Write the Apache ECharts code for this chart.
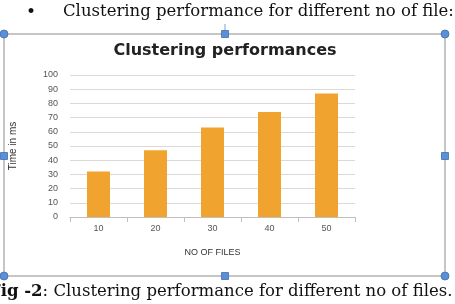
<!DOCTYPE html>
<html lang="en">
<head>
    <meta charset="UTF-8">
    <title>Clustering performances</title>
    <script src="https://cdn.jsdelivr.net/npm/echarts@6/dist/echarts.min.js"></script>
    <style>
        html, body { margin: 0; padding: 0; background: #fff; }
        #chart { width: 455px; height: 304px; }
    </style>
</head>
<body>
<div id="chart"></div>
<script>
    // data
    var fileCounts = ['10', '20', '30', '40', '50'];
    var timeMs = [32, 47, 63, 74, 87];
    var yTicks = { min: 0, max: 100, interval: 10 };

    var handleBlue = '#5b8fd6';
    var frameGrey = '#8c8c8c';

    var chart = echarts.init(document.getElementById('chart'));

    // word frame + resize handles round the embedded chart
    function corner(x, y) {
        return { type: 'circle', shape: { cx: x, cy: y, r: 4 }, style: { fill: handleBlue, stroke: '#3f6fb5', lineWidth: 0.8 }, z: 20 };
    }
    function square(x, y) {
        return { type: 'rect', shape: { x: x - 3.5, y: y - 3.5, width: 7, height: 7 }, style: { fill: handleBlue, stroke: '#3f6fb5', lineWidth: 0.8 }, z: 20 };
    }

    chart.setOption({
        animation: false,
        title: {
            text: 'Clustering performances',
            left: 220,
            top: 38,
            textAlign: 'center',
            textStyle: { fontFamily: 'DejaVu Sans', fontWeight: 'bold', fontSize: 16, color: '#222' }
        },
        grid: { left: 69, right: 100, top: 75, bottom: 87 },
        xAxis: {
            type: 'category',
            data: fileCounts,
            name: 'NO OF FILES',
            nameLocation: 'middle',
            nameGap: 31,
            nameTextStyle: { fontFamily: 'Liberation Sans', fontSize: 9, color: '#333' },
            axisLine: { lineStyle: { color: '#bfbfbf' } },
            axisTick: { show: true, lineStyle: { color: '#bfbfbf' } },
            axisLabel: { fontFamily: 'Liberation Sans', fontSize: 9, color: '#555', margin: 7 }
        },
        yAxis: {
            type: 'value',
            min: yTicks.min,
            max: yTicks.max,
            interval: yTicks.interval,
            name: 'Time in ms',
            nameLocation: 'middle',
            nameRotate: 90,
            nameGap: 52,
            nameTextStyle: { fontFamily: 'Liberation Sans', fontSize: 10, color: '#333' },
            axisLine: { show: false },
            axisTick: { show: false },
            splitLine: { lineStyle: { color: '#d9d9d9' } },
            axisLabel: { fontFamily: 'Liberation Sans', fontSize: 9, color: '#555', margin: 12 }
        },
        series: [{
            type: 'bar',
            data: timeMs,
            barWidth: 23,
            itemStyle: { color: '#f0a32e' }
        }],
        graphic: [
            {
                type: 'text', left: 26, top: 4,
                style: { text: '\u2022', font: '17px "DejaVu Serif"', fill: '#111' }
            },
            {
                type: 'text', left: 63, top: 3,
                style: { text: 'Clustering performance for different no of file:', font: '16.5px "DejaVu Serif"', fill: '#111' }
            },
            // rotate handle stem
            { type: 'line', shape: { x1: 225, y1: 24, x2: 225, y2: 31 }, style: { stroke: '#7a9fd6', lineWidth: 1 }, z: 19 },
            {
                type: 'rect', shape: { x: 4, y: 34, width: 441, height: 242 },
                style: { fill: 'none', stroke: frameGrey, lineWidth: 1 }, z: 10
            },
            corner(4, 34), corner(445, 34), corner(4, 276), corner(445, 276),
            square(225, 34), square(4, 156), square(445, 156), square(225, 276),
            {
                type: 'text', left: -11, top: 283,
                style: {
                    text: '{b|Fig -2}: Clustering performance for different no of files.',
                    font: '16.5px "DejaVu Serif"', fill: '#111',
                    rich: { b: { fontFamily: 'DejaVu Serif', fontSize: 16.5, fontWeight: 'bold', fill: '#111' } }
                }
            }
        ]
    });
</script>
</body>
</html>
